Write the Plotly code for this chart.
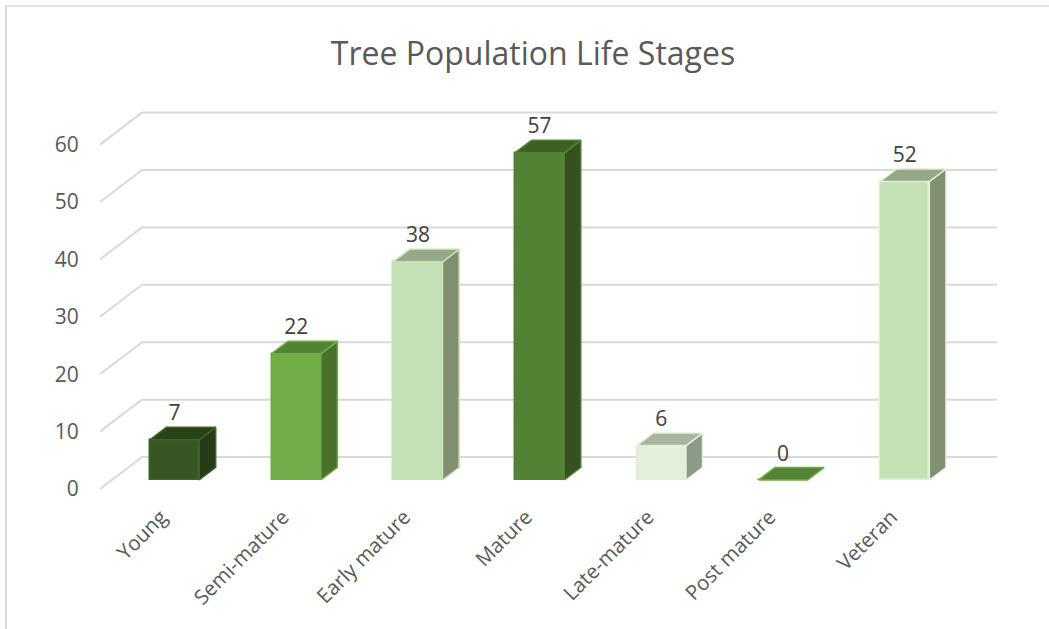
import plotly.graph_objects as go

# ---- data ----
categories = ["Young", "Semi-mature", "Early mature", "Mature", "Late-mature", "Post mature", "Veteran"]
values = [7, 22, 38, 57, 6, 0, 52]
y_ticks = [0, 10, 20, 30, 40, 50, 60]

# ---- colours per bar ----
front_colors = ["#375623", "#70AD47", "#C5E0B4", "#548235", "#E2F0D9", "#548235", "#C5E0B4"]
side_colors = ["#263C18", "#4B7029", "#7F8F70", "#375020", "#8D9A87", "#548235", "#7F8F70"]
top_colors = ["#2A4218", "#548235", "#96A888", "#3F6023", "#A9B5A3", "#548235", "#93A886"]
edge_colors = ["#3F6328", "#70AD47", "#C5E0B4", "#548235", "#E2F0D9", "#70AD47", "#E2F0D9"]

# ---- oblique projection, in axis units ----
W, H = 1049, 629
L, R, T, B = 100, 997, 90, 500
X_RANGE = [-0.612, 6.758]
Y_RANGE = [-1.916, 69.51]
BAR_WIDTH = 0.405
BAR_BASE = 1.57
BAR_DX, BAR_DY = 0.136, 2.18
WALL_DX, WALL_DY = 0.345, 5.57
LABEL_GAP = 4.3
TICK_SHIFT = -0.11
EDGE = 1.5
TEXT = "#595959"
GRID = "#D9D9D9"
FONT = "Open Sans"

fig = go.Figure()

# front faces
fig.add_trace(go.Bar(
    x=list(range(len(categories))), y=values, base=[BAR_BASE] * len(values), width=BAR_WIDTH,
    marker=dict(color=front_colors, line=dict(color=edge_colors, width=EDGE)),
    hoverinfo="skip", showlegend=False,
))

# side and top faces
for i, v in enumerate(values):
    x0, x1 = i - BAR_WIDTH / 2, i + BAR_WIDTH / 2
    y0, y1 = BAR_BASE, BAR_BASE + v
    if v > 0:
        fig.add_trace(go.Scatter(
            x=[x1, x1 + BAR_DX, x1 + BAR_DX, x1, x1],
            y=[y0, y0 + BAR_DY, y1 + BAR_DY, y1, y0],
            mode="lines", fill="toself", fillcolor=side_colors[i],
            line=dict(color=edge_colors[i], width=EDGE),
            hoverinfo="skip", showlegend=False,
        ))
    fig.add_trace(go.Scatter(
        x=[x0, x1, x1 + BAR_DX, x0 + BAR_DX, x0],
        y=[y1, y1, y1 + BAR_DY, y1 + BAR_DY, y1],
        mode="lines", fill="toself", fillcolor=top_colors[i],
        line=dict(color=edge_colors[i], width=EDGE),
        hoverinfo="skip", showlegend=False,
    ))

# data labels
fig.add_trace(go.Scatter(
    x=list(range(len(categories))),
    y=[BAR_BASE + v + LABEL_GAP for v in values],
    mode="text", text=[str(v) for v in values], textposition="middle center",
    textfont=dict(family=FONT, size=21, color="#404040"),
    hoverinfo="skip", showlegend=False, cliponaxis=False,
))

# gridlines: side wall and back wall
shapes = []
for t in y_ticks:
    xw = X_RANGE[0] + WALL_DX
    shapes.append(dict(type="line", layer="below", xref="x", yref="y",
                       x0=X_RANGE[0], y0=t, x1=xw, y1=t + WALL_DY,
                       line=dict(color=GRID, width=2)))
    shapes.append(dict(type="line", layer="below", xref="x", yref="y",
                       x0=xw, y0=t + WALL_DY, x1=X_RANGE[1], y1=t + WALL_DY,
                       line=dict(color=GRID, width=2)))

# chart frame (left and top edges)
def px(p):
    return (p - L) / (R - L)

def py(p):
    return (B - p) / (B - T)

shapes.append(dict(type="line", layer="below", xref="paper", yref="paper",
                   x0=px(6), x1=px(6), y0=py(6), y1=py(H), line=dict(color=GRID, width=2)))
shapes.append(dict(type="line", layer="below", xref="paper", yref="paper",
                   x0=px(6), x1=px(W), y0=py(6), y1=py(6), line=dict(color=GRID, width=1.5)))

fig.update_layout(
    width=W, height=H,
    margin=dict(l=L, r=W - R, t=T, b=H - B, autoexpand=False),
    paper_bgcolor="white", plot_bgcolor="rgba(0,0,0,0)",
    shapes=shapes, showlegend=False, bargap=0,
    title=dict(text="Tree Population Life Stages", x=533 / W, xanchor="center", xref="container",
               y=1 - 54 / H, yanchor="middle", yref="container",
               font=dict(family=FONT, size=32, color=TEXT)),
    xaxis=dict(range=X_RANGE, tickmode="array",
               tickvals=[i + TICK_SHIFT for i in range(len(categories))],
               ticktext=categories, tickangle=-45, showgrid=False, zeroline=False, showline=False,
               ticks="", tickfont=dict(family=FONT, size=20.5, color=TEXT)),
    yaxis=dict(range=Y_RANGE, tickmode="array", tickvals=y_ticks, showgrid=False, zeroline=False,
               showline=False, ticks="outside", ticklen=16, tickcolor="rgba(0,0,0,0)",
               tickfont=dict(family=FONT, size=21, color=TEXT)),
)

fig.write_html("out.html", post_script="document.body.style.margin='0';",
               config=dict(displayModeBar=False))
